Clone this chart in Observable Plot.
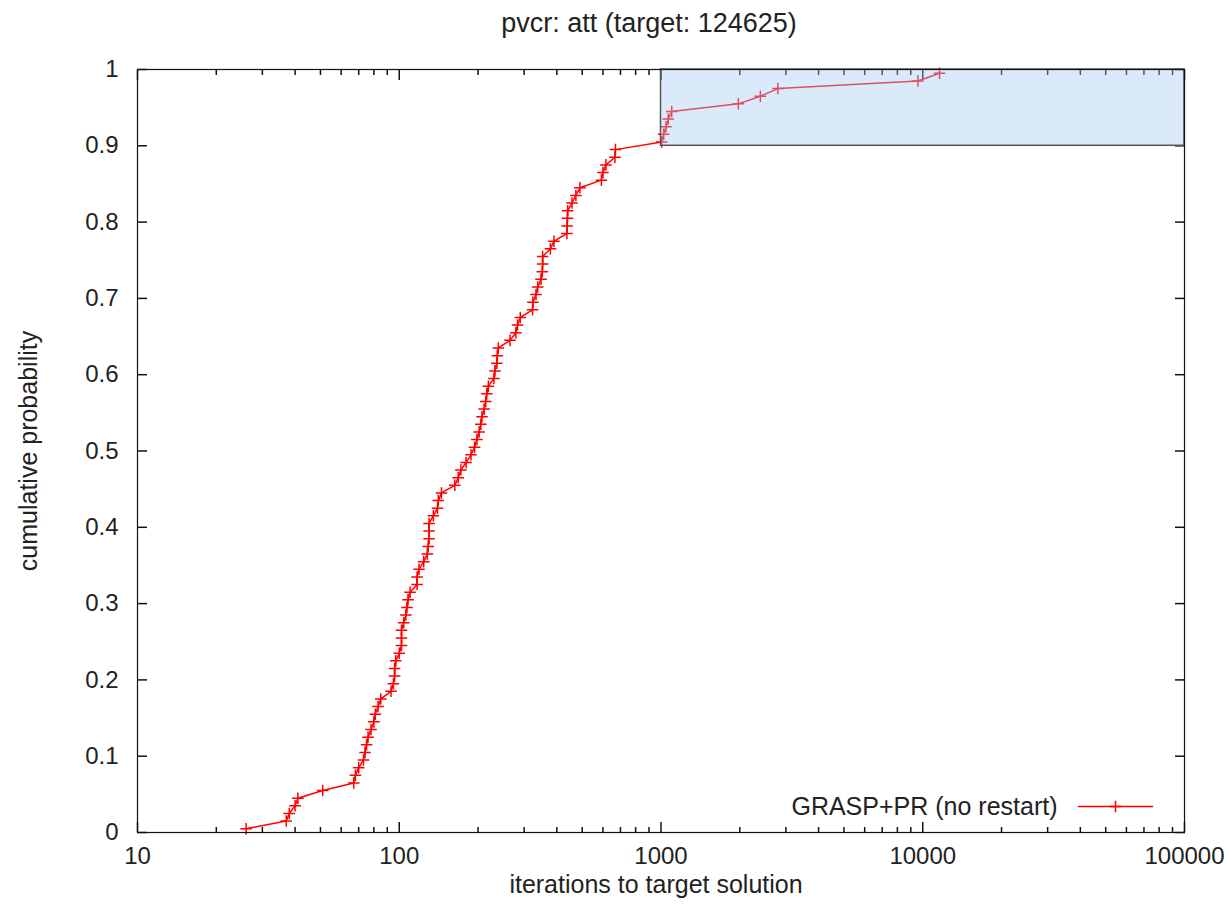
<!DOCTYPE html>
<html><head><meta charset="utf-8">
<script src="https://cdn.jsdelivr.net/npm/d3@7"></script>
<script src="https://cdn.jsdelivr.net/npm/@observablehq/plot@0.6"></script>
<style>
html,body{margin:0;padding:0;background:#fff;}
#title{height:46px;font:27px/46px "Liberation Sans",Arial,sans-serif;color:#222;text-align:center;padding-left:69px;box-sizing:border-box;width:1229px;white-space:nowrap;}
</style></head><body>
<div id="title"></div><div id="chart"></div>
<script>
const titleText = "pvcr: att (target: 124625)";
const xLabel = "iterations to target solution";
const yLabel = "cumulative probability";
const seriesName = "GRASP+PR (no restart)";

// iterations to target (x) and cumulative probability (y)
const iterations = [26, 37, 38, 40, 41, 51, 67, 68, 70, 73,
  74, 75, 76, 78, 80, 81, 83, 85, 93, 95,
  96, 96, 97, 100, 102, 102, 102, 104, 106, 107,
  108, 110, 117, 117, 119, 124, 128, 129, 130, 130,
  130, 135, 140, 141, 145, 163, 168, 172, 180, 188,
  194, 198, 202, 205, 207, 211, 214, 216, 219, 230,
  232, 236, 237, 239, 265, 279, 283, 290, 323, 324,
  333, 338, 348, 352, 353, 353, 378, 390, 437, 438,
  439, 440, 457, 473, 490, 592, 600, 616, 667, 670,
  1006, 1024, 1045, 1066, 1099, 1975, 2397, 2795, 9587, 11593];
const probability = [0.005, 0.015, 0.025, 0.035, 0.045, 0.055, 0.065, 0.075, 0.085, 0.095,
  0.105, 0.115, 0.125, 0.135, 0.145, 0.155, 0.165, 0.175, 0.185, 0.195,
  0.205, 0.215, 0.225, 0.235, 0.245, 0.255, 0.265, 0.275, 0.285, 0.295,
  0.305, 0.315, 0.325, 0.335, 0.345, 0.355, 0.365, 0.375, 0.385, 0.395,
  0.405, 0.415, 0.425, 0.435, 0.445, 0.455, 0.465, 0.475, 0.485, 0.495,
  0.505, 0.515, 0.525, 0.535, 0.545, 0.555, 0.565, 0.575, 0.585, 0.595,
  0.605, 0.615, 0.625, 0.635, 0.645, 0.655, 0.665, 0.675, 0.685, 0.695,
  0.705, 0.715, 0.725, 0.735, 0.745, 0.755, 0.765, 0.775, 0.785, 0.795,
  0.805, 0.815, 0.825, 0.835, 0.845, 0.855, 0.865, 0.875, 0.885, 0.895,
  0.905, 0.915, 0.925, 0.935, 0.945, 0.955, 0.965, 0.975, 0.985, 0.995];

// axis ticks
const xMajorTicks = [10, 100, 1000, 10000, 100000];
const xMinorTicks = [20, 30, 40, 50, 60, 70, 80, 90,
  200, 300, 400, 500, 600, 700, 800, 900,
  2000, 3000, 4000, 5000, 6000, 7000, 8000, 9000,
  20000, 30000, 40000, 50000, 60000, 70000, 80000, 90000];
const yTicks = [0, 0.1, 0.2, 0.3, 0.4, 0.5, 0.6, 0.7, 0.8, 0.9, 1];

// highlighted box
const boxIterations = [1000, 100000];
const boxProbability = [0.9, 1];

document.getElementById("title").textContent = titleText;

const data = iterations.map((x, i) => ({x, y: probability[i]}));
const box = [{x1: boxIterations[0], x2: boxIterations[1], y1: boxProbability[0], y2: boxProbability[1]}];

const lineShape = {draw(context, l) { context.moveTo(0, 0); context.lineTo(0, -l); }};
const red = "#ff0000";
const tickStyle = {text: null, label: null, stroke: "#111", strokeWidth: 1.5};

const chart = Plot.plot({
  width: 1229,
  height: 875,
  marginTop: 23,
  marginBottom: 89,
  marginLeft: 137,
  marginRight: 45,
  style: {fontFamily: "'Liberation Sans', Arial, sans-serif", fontSize: "24px", color: "#222", background: "#fff", overflow: "visible"},
  x: {type: "log", domain: [10, 100000]},
  y: {domain: [0, 1]},
  marks: [
    // tick labels
    Plot.axisX(xMajorTicks, {tickSize: 0, tickPadding: 14, tickFormat: d => String(d), label: null}),
    Plot.axisY(yTicks, {tickSize: 0, tickPadding: 19, tickFormat: d3.format("~g"), label: null}),
    // inward ticks, mirrored on all four sides
    Plot.axisX(xMajorTicks, {anchor: "bottom", tickSize: -10, ...tickStyle}),
    Plot.axisX(xMinorTicks, {anchor: "bottom", tickSize: -5, ...tickStyle}),
    Plot.axisX(xMajorTicks, {anchor: "top", tickSize: -10, ...tickStyle}),
    Plot.axisX(xMinorTicks, {anchor: "top", tickSize: -5, ...tickStyle}),
    Plot.axisY(yTicks, {anchor: "left", tickSize: -10, ...tickStyle}),
    Plot.axisY(yTicks, {anchor: "right", tickSize: -10, ...tickStyle}),
    // series
    Plot.line(data, {x: "x", y: "y", stroke: red, strokeWidth: 1.5}),
    Plot.dot(data, {x: "x", y: "y", symbol: "plus", r: 3.8, stroke: red, strokeWidth: 1.5}),
    // highlighted box
    Plot.rect(box, {x1: "x1", x2: "x2", y1: "y1", y2: "y2", fill: "#a5caf5", fillOpacity: 0.4, stroke: "#555", strokeWidth: 1.5}),
    Plot.frame({stroke: "#111", strokeWidth: 1.2}),
    // axis titles
    Plot.text([yLabel], {frameAnchor: "left", textAnchor: "middle", lineAnchor: "middle", dx: -109, rotate: -90, fill: "#222", fontSize: 25}),
    Plot.text([xLabel], {frameAnchor: "bottom", textAnchor: "middle", lineAnchor: "middle", dx: -5, dy: 52, fill: "#222", fontSize: 25}),
    // legend
    Plot.text([seriesName], {frameAnchor: "bottom-right", textAnchor: "end", lineAnchor: "middle", dx: -127, dy: -26, fill: "#222", fontSize: 25}),
    Plot.vector([seriesName], {frameAnchor: "bottom-right", dx: -32, dy: -26, length: 74, rotate: -90, anchor: "start", shape: lineShape, stroke: red, strokeWidth: 1.5}),
    Plot.dot([seriesName], {frameAnchor: "bottom-right", dx: -69, dy: -26, symbol: "plus", r: 3.8, stroke: red, strokeWidth: 1.5})
  ]
});
document.getElementById("chart").appendChild(chart);
</script></body></html>
